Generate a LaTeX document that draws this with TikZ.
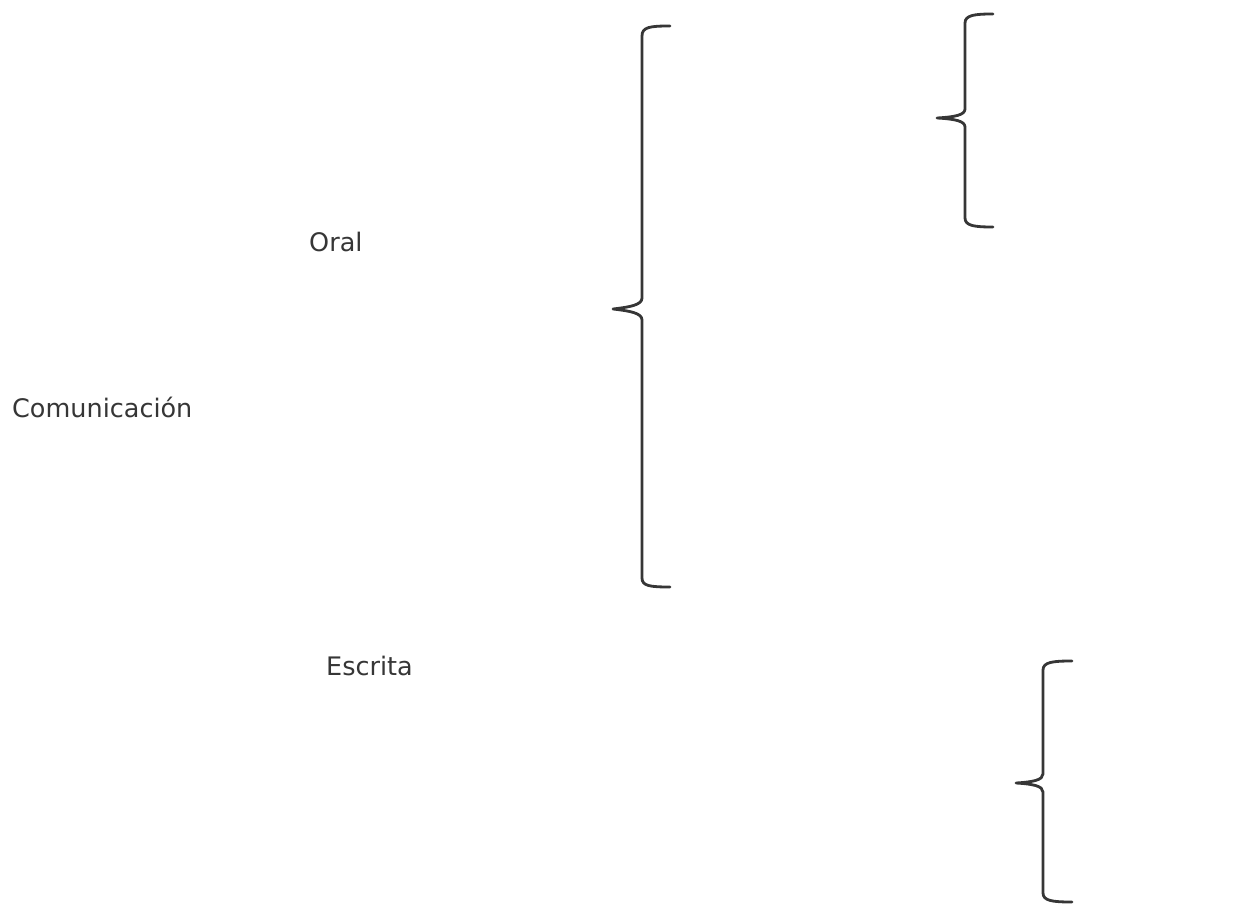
\documentclass[tikz,border=0pt]{standalone}
\usepackage{fontspec}
\setmainfont{DejaVu Sans}
\definecolor{ink}{HTML}{363636}
\begin{document}
\begin{tikzpicture}[x=1pt,y=-1pt,
  lbl/.style={anchor=base west,inner sep=0pt,text=ink,font=\fontsize{25.5}{30}\selectfont},
  br/.style={draw=ink,line width=2.8pt,line cap=round,line join=round}]
\useasboundingbox[fill=white] (0,0) rectangle (1245,909);
\node[lbl] (oral) at (309,252) {Oral};
\node[lbl] (com) at (12,417) {Comunicación};
\node[lbl] (esc) at (326,675) {Escrita};
% large brace
\draw[br] (670,26) .. controls (650,26) and (642,27) .. (642,36) -- (642,298)
  .. controls (642,305) and (630,307) .. (613,309)
  .. controls (630,311) and (642,313) .. (642,320) -- (642,578)
  .. controls (642,586) and (650,587) .. (670,587);
% top small brace
\draw[br] (993,14) .. controls (975,14) and (965,15) .. (965,23) -- (965,109)
  .. controls (965,115) and (955,117) .. (937,118)
  .. controls (955,119) and (965,121) .. (965,127) -- (965,218)
  .. controls (965,226) and (975,227) .. (993,227);
% bottom brace
\draw[br] (1072,661) .. controls (1053,661) and (1043,662) .. (1043,670) -- (1043,774)
  .. controls (1043,780) and (1033,782) .. (1016,783)
  .. controls (1033,784) and (1043,786) .. (1043,792) -- (1043,893)
  .. controls (1043,901) and (1053,902) .. (1072,902);
\end{tikzpicture}
\end{document}
